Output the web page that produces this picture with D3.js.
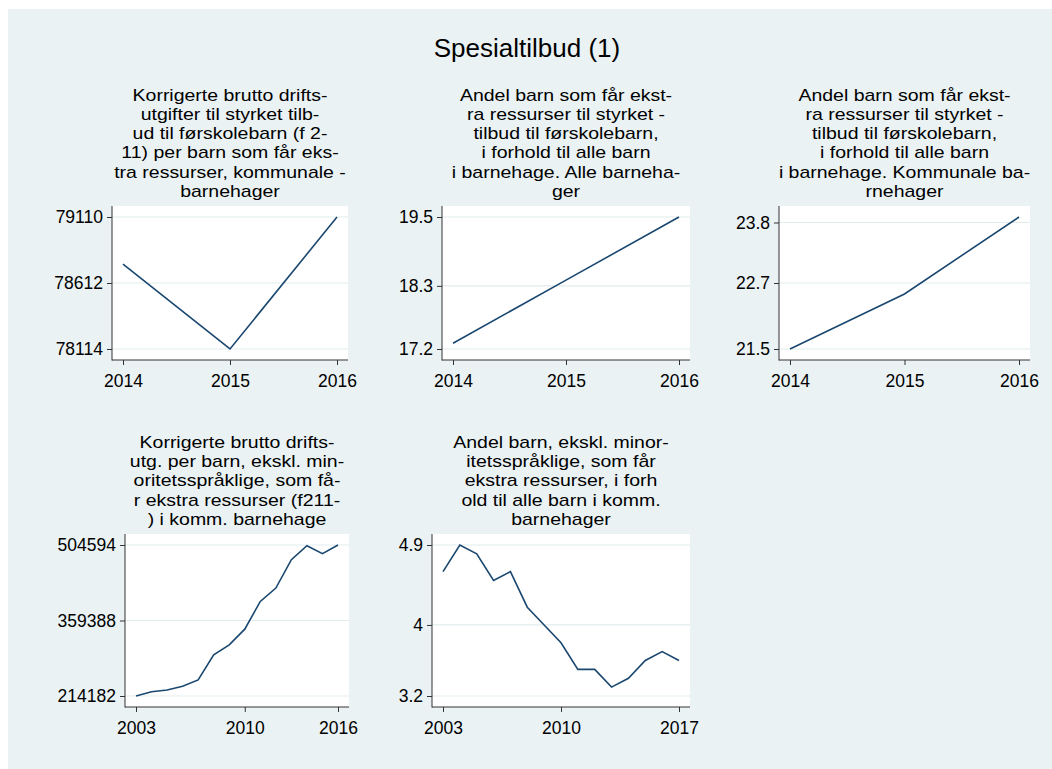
<!DOCTYPE html>
<html>
<head>
<meta charset="utf-8">
<script src="https://cdn.jsdelivr.net/npm/d3@7"></script>
<style>
  body { margin: 0; background: #fff; }
  svg text { font-family: "Liberation Sans", Arial, sans-serif; fill: #000; }
</style>
</head>
<body>
<div id="chart"></div>
<script>
// data
var mainTitle = "Spesialtilbud (1)";

var p1Title = ["Korrigerte brutto drifts-", "utgifter til styrket tilb-", "ud til førskolebarn (f 2-",
               "11) per barn som får eks-", "tra ressurser, kommunale -", "barnehager"];
var p1Years = [2014, 2015, 2016];
var p1Values = [78755, 78114, 79110];
var p1YTicks = [78114, 78612, 79110];
var p1XTicks = [2014, 2015, 2016];

var p2Title = ["Andel barn som får ekst-", "ra ressurser til styrket -", "tilbud til førskolebarn,",
               "i forhold til alle barn", "i barnehage. Alle barneha-", "ger"];
var p2Years = [2014, 2015, 2016];
var p2Values = [17.3, 18.4, 19.5];
var p2YTicks = [17.2, 18.3, 19.5];
var p2XTicks = [2014, 2015, 2016];

var p3Title = ["Andel barn som får ekst-", "ra ressurser til styrket -", "tilbud til førskolebarn,",
               "i forhold til alle barn", "i barnehage. Kommunale ba-", "rnehager"];
var p3Years = [2014, 2015, 2016];
var p3Values = [21.5, 22.5, 23.9];
var p3YTicks = [21.5, 22.7, 23.8];
var p3XTicks = [2014, 2015, 2016];

var p4Title = ["Korrigerte brutto drifts-", "utg. per barn, ekskl. min-", "oritetsspråklige, som få-",
               "r ekstra ressurser (f211-", ") i komm. barnehage"];
var p4Years = [2003, 2004, 2005, 2006, 2007, 2008, 2009, 2010, 2011, 2012, 2013, 2014, 2015, 2016];
var p4Values = [214182, 222500, 225700, 232800, 245000, 293200, 312500, 342700,
                396000, 421700, 476300, 503300, 487900, 504594];
var p4YTicks = [214182, 359388, 504594];
var p4XTicks = [2003, 2010, 2016];

var p5Title = ["Andel barn, ekskl. minor-", "itetsspråklige, som får", "ekstra ressurser, i forh",
               "old til alle barn i komm.", "barnehager"];
var p5Years = [2003, 2004, 2005, 2006, 2007, 2008, 2009, 2010, 2011, 2012, 2013, 2014, 2015, 2016, 2017];
var p5Values = [4.6, 4.9, 4.8, 4.5, 4.6, 4.2, 4.0, 3.8, 3.5, 3.5, 3.3, 3.4, 3.6, 3.7, 3.6];
var p5YTicks = [3.2, 4, 4.9];
var p5XTicks = [2003, 2010, 2017];

// layout: plot boxes in page pixels
var W = 1052, H = 769;
var pad = 11;
var lineColor = "#1a476f";
var bg = "#eaf2f3";

var panels = [
  {title: p1Title, years: p1Years, values: p1Values, yTicks: p1YTicks, xTicks: p1XTicks, box: [112, 206, 348, 360]},
  {title: p2Title, years: p2Years, values: p2Values, yTicks: p2YTicks, xTicks: p2XTicks, box: [442, 206, 690, 360]},
  {title: p3Title, years: p3Years, values: p3Values, yTicks: p3YTicks, xTicks: p3XTicks, box: [779, 206, 1030, 360]},
  {title: p4Title, years: p4Years, values: p4Values, yTicks: p4YTicks, xTicks: p4XTicks, box: [125, 534, 349, 707]},
  {title: p5Title, years: p5Years, values: p5Values, yTicks: p5YTicks, xTicks: p5XTicks, box: [432, 534, 690, 707]}
];

var svg = d3.select("#chart").append("svg")
    .attr("width", W)
    .attr("height", H);

svg.append("rect")
    .attr("x", 8).attr("y", 9)
    .attr("width", W - 8).attr("height", H - 9)
    .attr("fill", bg);

svg.append("text")
    .attr("x", 527).attr("y", 57)
    .attr("text-anchor", "middle")
    .style("font-size", "26px")
    .text(mainTitle);

panels.forEach(function (p) {
    var x0 = p.box[0], y0 = p.box[1], x1 = p.box[2], y1 = p.box[3];

    var x = d3.scaleLinear()
        .domain(d3.extent(p.years.concat(p.xTicks)))
        .range([x0 + pad, x1 - pad]);

    var y = d3.scaleLinear()
        .domain(d3.extent(p.values.concat(p.yTicks)))
        .range([y1 - pad, y0 + pad]);

    var g = svg.append("g");

    // plot region
    g.append("rect")
        .attr("x", x0).attr("y", y0)
        .attr("width", x1 - x0).attr("height", y1 - y0)
        .attr("fill", "#fff");

    // gridlines
    g.selectAll(".grid")
        .data(p.yTicks)
        .enter()
        .append("line")
        .attr("x1", x0).attr("x2", x1)
        .attr("y1", function (d) { return y(d); })
        .attr("y2", function (d) { return y(d); })
        .attr("stroke", "#e2ebee")
        .attr("stroke-width", 1.2);

    // title, centred on the plot region. stata's font is a bit wider than
    // liberation, so each line is stretched sideways instead of using a bigger size
    var nLines = p.title.length;
    var lastBase = y0 - 9;
    g.selectAll(".ttl")
        .data(p.title)
        .enter()
        .append("text")
        .attr("text-anchor", "middle")
        .attr("transform", function (d, i) {
            return "translate(" + (x0 + x1) / 2 + "," + (lastBase - (nLines - 1 - i) * 19.3) + ") scale(1.16,1)";
        })
        .style("font-size", "16.8px")
        .text(function (d) { return d; });

    // axes
    var yAxis = g.append("g")
        .attr("transform", "translate(" + x0 + ",0)")
        .call(d3.axisLeft(y).tickValues(p.yTicks).tickSize(5).tickPadding(4)
            .tickFormat(function (d) { return d3.format("")(d); }));
    var xAxis = g.append("g")
        .attr("transform", "translate(0," + y1 + ")")
        .call(d3.axisBottom(x).tickValues(p.xTicks).tickSize(5).tickPadding(10)
            .tickFormat(function (d) { return d3.format("")(d); }));

    [yAxis, xAxis].forEach(function (a) {
        a.select(".domain").remove();
        a.selectAll("line").attr("stroke", "#333");
        a.selectAll("text")
            .style("font-size", "17.5px")
            .style("font-family", "'Liberation Sans', Arial, sans-serif")
            .attr("fill", "#000");
    });

    // axis lines along the plot region
    g.append("line")
        .attr("x1", x0).attr("x2", x0).attr("y1", y0).attr("y2", y1 + 0.5)
        .attr("stroke", "#333");
    g.append("line")
        .attr("x1", x0).attr("x2", x1).attr("y1", y1).attr("y2", y1)
        .attr("stroke", "#333");

    var valueLine = d3.line()
        .x(function (d, i) { return x(p.years[i]); })
        .y(function (d) { return y(d); });

    g.append("path")
        .datum(p.values)
        .attr("d", valueLine)
        .attr("fill", "none")
        .attr("stroke", lineColor)
        .attr("stroke-width", 1.6);
});
</script>
</body>
</html>
